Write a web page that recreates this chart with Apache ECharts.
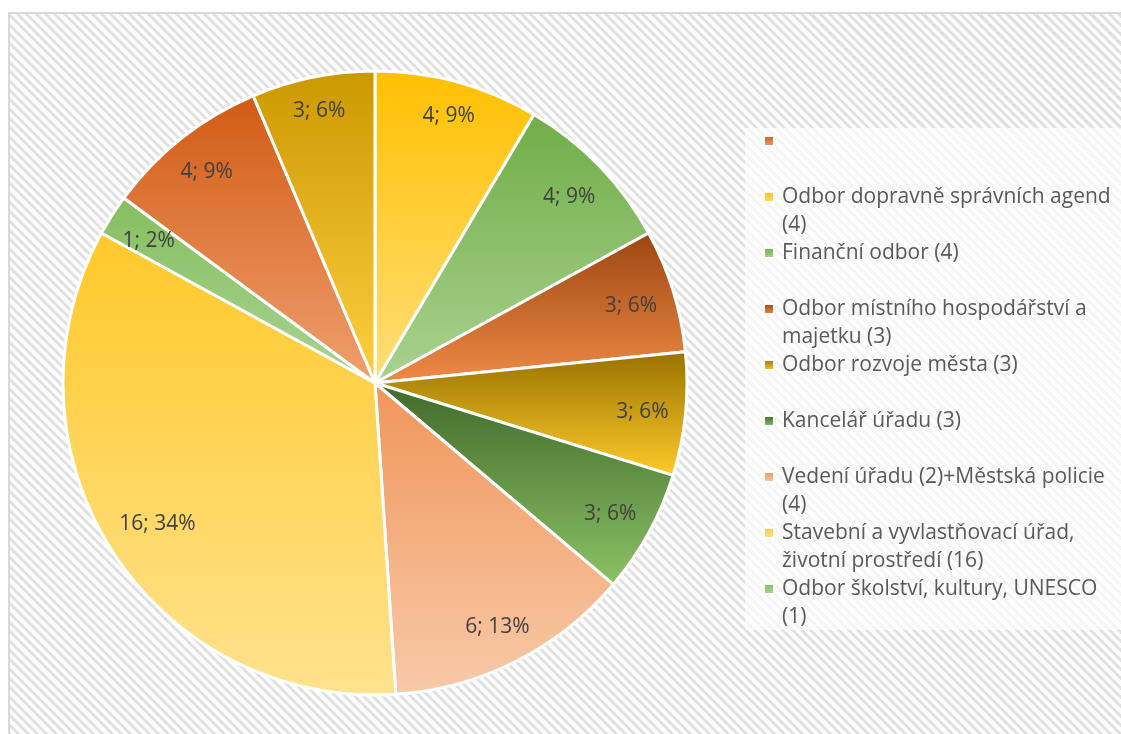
<!DOCTYPE html>
<html><head><meta charset="utf-8">
<script src="https://cdn.jsdelivr.net/npm/echarts@6/dist/echarts.min.js"></script>
<style>
html,body{margin:0;padding:0;background:#fff;overflow:hidden}
#frame{position:absolute;left:8px;top:12px;width:1300px;height:900px;border:2px solid #d9d9d9;
background:repeating-linear-gradient(45deg,#e1e1e1 0px,#e1e1e1 3px,#fcfcfc 3px,#fcfcfc 6.6px);}
#legbox{position:absolute;left:745px;top:128px;width:500px;height:502px;background:rgba(255,255,255,0.65)}
#chart{position:absolute;left:0;top:0;width:1121px;height:734px}
</style></head><body>
<div id="frame"></div><div id="legbox"></div><div id="chart"></div>
<script>
// Categories (legend text, "\n" marks the line wrap) and values, clockwise from 12 o'clock
const categories = [
  'Odbor dopravně správních agend\n(4)',
  'Finanční odbor (4)',
  'Odbor místního hospodářství a\nmajetku (3)',
  'Odbor rozvoje města (3)',
  'Kancelář úřadu (3)',
  'Vedení úřadu (2)+Městská policie\n(4)',
  'Stavební a vyvlastňovací úřad,\nživotní prostředí (16)',
  'Odbor školství, kultury, UNESCO\n(1)',
  ' ',
  '  '
];
const values = [4, 4, 3, 3, 3, 6, 16, 1, 4, 3];
// Legend entries in the order shown (the last slice has no legend entry)
const legendOrder = [' ', categories[0], categories[1], categories[2], categories[3], categories[4], categories[5], categories[6], categories[7]];

// Gradient palette (top colour, bottom colour) per slice
const paletteTop = ['#FFC000', '#70AD47', '#9C4612', '#987200', '#3F692A', '#F0955A', '#FFC92A', '#85BE5E', '#D15B14', '#CB9800'];
const paletteBottom = ['#FFDE7A', '#AAD290', '#EF8B46', '#FFCB2A', '#8CC266', '#F8CAA9', '#FFE28E', '#AAD494', '#F0A06F', '#FFCF42'];

function grad(i) {
  return new echarts.graphic.LinearGradient(0, 0, 0, 1, [
    { offset: 0, color: paletteTop[i] },
    { offset: 1, color: paletteBottom[i] }
  ]);
}

const FONT = "'Open Sans', 'Noto Sans', sans-serif";
const total = values.reduce((a, b) => a + b, 0);
const cumStart = values.map((v, i) => values.slice(0, i).reduce((a, b) => a + b, 0));

const CX = 375, CY = 383, R = 312;
const LABEL_R = 296; // labels sit "inside end": their outer corner on this circle

const pieData = values.map((v, i) => ({ name: categories[i], value: v, itemStyle: { color: grad(i) } }));

const chart = echarts.init(document.getElementById('chart'), null, { renderer: 'canvas' });
chart.setOption({
  backgroundColor: 'transparent',
  animation: false,
  legend: {
    data: legendOrder,
    orient: 'vertical',
    left: 763,
    top: 99,
    padding: 0,
    itemGap: -28,
    itemWidth: 10,
    itemHeight: 10,
    icon: 'rect',
    selectedMode: false,
    formatter: function (name) {
      const parts = name.split('\n');
      return '\n' + parts[0] + '\n' + (parts[1] || '');
    },
    textStyle: {
      color: '#595959',
      fontFamily: FONT,
      fontSize: 21,
      lineHeight: 28,
      padding: [0, 0, 0, 3]
    }
  },
  series: [
    {
      type: 'pie',
      center: [CX, CY],
      radius: [0, R],
      startAngle: 90,
      clockwise: true,
      padAngle: 0,
      silent: true,
      emphasis: { disabled: true },
      itemStyle: { borderColor: '#ffffff', borderWidth: 3 },
      labelLine: { show: false },
      label: {
        show: true,
        position: 'inside',
        color: '#404040',
        fontFamily: FONT,
        fontSize: 21,
        formatter: function (p) {
          return p.value + '; ' + Math.round(p.value / total * 100) + '%';
        }
      },
      labelLayout: function (p) {
        const i = p.dataIndex;
        const mid = (cumStart[i] + values[i] / 2) / total * Math.PI * 2;
        const ux = Math.sin(mid), uy = -Math.cos(mid);
        const sx = Math.sign(ux) * p.labelRect.width / 2;
        const sy = Math.sign(uy) * 10;
        const b = ux * sx + uy * sy;
        const c = sx * sx + sy * sy - LABEL_R * LABEL_R;
        const d = -b + Math.sqrt(b * b - c);
        return { x: CX + d * ux, y: CY + d * uy + 2 };
      },
      data: pieData
    }
  ]
});
</script>
</body></html>
